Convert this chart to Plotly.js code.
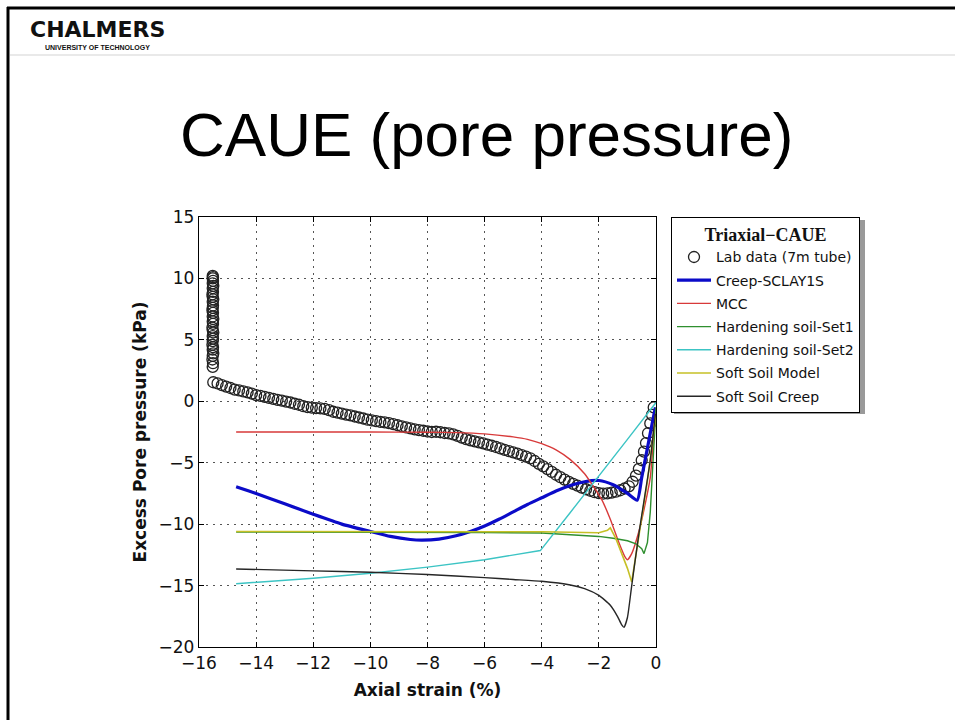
<!DOCTYPE html>
<html>
<head>
<meta charset="utf-8">
<script src="https://cdn.plot.ly/plotly-3.0.1.min.js"></script>
<style>
html,body{margin:0;padding:0;background:#fff;}
#chart{width:955px;height:720px;}
</style>
</head>
<body>
<div id="chart"></div>
<script>
// ---- Data ----
const seriesNames = ["Lab data (7m tube)", "Creep-SCLAY1S", "MCC", "Hardening soil-Set1", "Hardening soil-Set2", "Soft Soil Model", "Soft Soil Creep"];

// Lab data: vertical cluster at start of test
const labClusterX = [-15.52,-15.51,-15.53,-15.52,-15.50,-15.52,-15.51,-15.53,-15.52,-15.51,-15.52,-15.50,-15.52,-15.53,-15.51,-15.52,-15.50,-15.52,-15.51,-15.53,-15.52,-15.51,-15.52,-15.50,-15.52,-15.53,-15.51,-15.52,-15.50,-15.52,-15.51,-15.52,-15.51,-15.52];
const labClusterY = [2.8,3.1,3.4,3.7,3.9,4.2,4.4,4.6,4.9,5.1,5.3,5.6,5.8,6.0,6.3,6.5,6.7,6.9,7.2,7.4,7.6,7.8,8.1,8.3,8.5,8.7,8.9,9.2,9.4,9.6,9.8,10.0,10.1,10.2];
// Lab data: main shearing branch
const labX = [-15.50,-15.35,-15.20,-15.05,-14.90,-14.75,-14.60,-14.45,-14.30,-14.15,-14.00,-13.85,-13.70,-13.55,-13.40,-13.25,-13.10,-12.95,-12.80,-12.65,-12.50,-12.35,-12.20,-12.05,-11.90,-11.75,-11.60,-11.45,-11.30,-11.15,-11.00,-10.85,-10.70,-10.55,-10.40,-10.25,-10.10,-9.95,-9.80,-9.65,-9.50,-9.35,-9.20,-9.05,-8.90,-8.75,-8.60,-8.45,-8.30,-8.15,-8.00,-7.85,-7.70,-7.55,-7.40,-7.25,-7.10,-6.95,-6.80,-6.65,-6.50,-6.35,-6.20,-6.05,-5.90,-5.75,-5.60,-5.45,-5.30,-5.15,-5.00,-4.85,-4.70,-4.55,-4.40,-4.25,-4.10,-3.95,-3.80,-3.65,-3.50,-3.35,-3.20,-3.05,-2.90,-2.75,-2.60,-2.45,-2.30,-2.15,-2.00,-1.85,-1.70,-1.55,-1.40,-1.25,-1.10,-0.95,-0.82,-0.70,-0.60,-0.50,-0.42,-0.35,-0.28,-0.20,-0.14,-0.08];
const labY = [1.55,1.45,1.32,1.20,1.08,0.95,0.88,0.80,0.72,0.62,0.50,0.44,0.36,0.28,0.20,0.12,0.05,-0.02,-0.10,-0.20,-0.28,-0.40,-0.48,-0.52,-0.55,-0.58,-0.62,-0.72,-0.85,-0.92,-1.00,-1.08,-1.15,-1.24,-1.32,-1.40,-1.50,-1.56,-1.62,-1.68,-1.72,-1.78,-1.86,-1.95,-2.04,-2.12,-2.20,-2.28,-2.34,-2.40,-2.46,-2.50,-2.48,-2.52,-2.58,-2.62,-2.70,-2.82,-2.95,-3.08,-3.18,-3.26,-3.34,-3.42,-3.52,-3.62,-3.72,-3.84,-3.96,-4.06,-4.16,-4.26,-4.38,-4.50,-4.64,-4.86,-5.10,-5.30,-5.52,-5.74,-5.98,-6.18,-6.38,-6.56,-6.72,-6.86,-7.02,-7.16,-7.28,-7.40,-7.48,-7.52,-7.50,-7.44,-7.36,-7.24,-7.10,-6.92,-6.55,-6.05,-5.50,-4.80,-4.10,-3.40,-2.60,-1.80,-1.10,-0.50];

const creepX = [-14.7,-14.0,-13.0,-12.0,-11.0,-10.0,-9.3,-8.6,-8.2,-7.6,-7.0,-6.5,-6.0,-5.5,-5.0,-4.5,-4.0,-3.5,-3.0,-2.5,-2.0,-1.5,-1.0,-0.66,-0.5,-0.3,-0.1,-0.02];
const creepY = [-6.95,-7.5,-8.35,-9.2,-10.0,-10.6,-11.0,-11.25,-11.3,-11.22,-10.95,-10.6,-10.15,-9.6,-9.0,-8.4,-7.85,-7.3,-6.85,-6.55,-6.45,-6.8,-7.5,-8.05,-6.2,-3.8,-1.4,-0.5];

const mccX = [-14.7,-12.0,-10.0,-8.0,-7.0,-6.0,-5.0,-4.5,-4.0,-3.5,-3.0,-2.5,-2.2,-1.9,-1.6,-1.3,-1.1,-1.0,-0.85,-0.6,-0.4,-0.2,-0.05,0.0];
const mccY = [-2.5,-2.5,-2.5,-2.52,-2.55,-2.65,-2.9,-3.1,-3.45,-3.95,-4.75,-5.9,-6.9,-8.0,-9.6,-11.5,-12.6,-12.9,-12.4,-10.6,-8.6,-6.2,-1.8,-0.8];

const hs1X = [-14.7,-12.0,-10.0,-8.0,-6.0,-4.0,-3.0,-2.0,-1.5,-1.0,-0.7,-0.5,-0.42,-0.3,-0.2,-0.12,-0.05,0.0];
const hs1Y = [-10.65,-10.65,-10.65,-10.65,-10.68,-10.72,-10.85,-11.0,-11.15,-11.35,-11.6,-12.0,-12.4,-11.5,-9.0,-5.5,-2.5,-0.5];

const hs2X = [-14.7,-12.0,-10.0,-8.0,-6.0,-4.05,-3.0,-2.0,-1.0,0.0];
const hs2Y = [-14.85,-14.4,-14.0,-13.5,-12.9,-12.15,-9.05,-6.1,-3.1,-0.1];

const ssmX = [-14.7,-10.0,-6.0,-4.0,-2.5,-2.0,-1.7,-1.6,-1.4,-1.2,-1.0,-0.85,-0.6,-0.3,0.0];
const ssmY = [-10.6,-10.6,-10.6,-10.62,-10.68,-10.7,-10.5,-10.3,-11.2,-12.4,-13.6,-14.7,-11.0,-6.5,-1.0];

const sscX = [-14.7,-12.0,-10.0,-8.0,-6.0,-5.0,-4.0,-3.0,-2.5,-2.0,-1.6,-1.35,-1.2,-1.12,-1.0,-0.85,-0.6,-0.4,-0.2,-0.02];
const sscY = [-13.65,-13.8,-13.92,-14.1,-14.35,-14.5,-14.65,-14.95,-15.25,-15.8,-16.6,-17.5,-18.2,-18.4,-17.6,-15.0,-10.8,-7.8,-4.8,-1.0];

const xTicks = [-16,-14,-12,-10,-8,-6,-4,-2,0];
const yTicks = [-20,-15,-10,-5,0,5,10,15];

// ---- Layout helpers (pixel -> paper) ----
const L = 199, R = 656, T = 217, B = 647;
const W = 955, H = 720;
const px = x => (x - L) / (R - L);
const py = y => (B - y) / (B - T);

const traces = [
  {x: labClusterX.concat(labX), y: labClusterY.concat(labY), mode: 'markers', name: seriesNames[0], legendgroup: 'g0',
   marker: {symbol: 'circle-open', size: 11, color: '#222', line: {width: 1.3}}},
  {x: creepX, y: creepY, mode: 'lines', name: seriesNames[1], legendgroup: 'g1', line: {color: '#0b0bc8', width: 3.2, shape: 'spline', smoothing: 0.6}},
  {x: mccX, y: mccY, mode: 'lines', name: seriesNames[2], legendgroup: 'g2', line: {color: '#d83a3a', width: 1.4, shape: 'spline', smoothing: 0.5}},
  {x: hs1X, y: hs1Y, mode: 'lines', name: seriesNames[3], legendgroup: 'g3', line: {color: '#2f8f2f', width: 1.4}},
  {x: hs2X, y: hs2Y, mode: 'lines', name: seriesNames[4], legendgroup: 'g4', line: {color: '#3cc4c4', width: 1.4}},
  {x: ssmX, y: ssmY, mode: 'lines', name: seriesNames[5], legendgroup: 'g5', line: {color: '#c6c026', width: 1.6}},
  {x: sscX, y: sscY, mode: 'lines', name: seriesNames[6], legendgroup: 'g6', line: {color: '#262626', width: 1.4, shape: 'spline', smoothing: 0.5}}
];

const axisCommon = {
  showline: true, linecolor: '#000', linewidth: 1.2, mirror: 'allticks',
  ticks: 'inside', ticklen: 5, tickcolor: '#000', tickwidth: 1,
  showgrid: true, gridcolor: '#555', griddash: '2px,5px', gridwidth: 1,
  zeroline: false, tickfont: {family: 'DejaVu Sans', size: 17, color: '#111'}
};

const layout = {
  width: W, height: H,
  margin: {l: L, r: W - R, t: T, b: H - B, pad: 0},
  paper_bgcolor: '#fff', plot_bgcolor: '#fff',
  font: {family: 'DejaVu Sans', color: '#111'},
  showlegend: true,
  xaxis: Object.assign({}, axisCommon, {
    range: [-16, 0], tickvals: xTicks,
    title: {text: 'Axial strain (%)', font: {family: 'DejaVu Sans', size: 17, weight: 'bold', color: '#111'}, standoff: 12}
  }),
  yaxis: Object.assign({}, axisCommon, {
    range: [-20, 15], tickvals: yTicks,
    title: {text: 'Excess Pore pressure (kPa)', font: {family: 'DejaVu Sans', size: 17, weight: 'bold', color: '#111'}, standoff: 7}
  }),
  legend: {
    x: px(671), y: py(217), xanchor: 'left', yanchor: 'top',
    bgcolor: '#fff', bordercolor: '#000', borderwidth: 1,
    font: {family: 'DejaVu Sans', size: 14, color: '#111'},
    title: {text: 'Triaxial\u2212CAUE', side: 'top center', font: {family: 'Liberation Serif', size: 18, weight: 'bold', color: '#111'}},
    itemwidth: 34, tracegroupgap: 2, traceorder: 'grouped'
  },
  shapes: [
    // legend shadow
    {type: 'rect', xref: 'paper', yref: 'paper', x0: px(674), x1: px(865), y0: py(220), y1: py(414), fillcolor: '#9a9a9a', line: {width: 0}, layer: 'below'},
    // slide frame: left and top black borders
    {type: 'line', xref: 'paper', yref: 'paper', x0: px(8), x1: px(8), y0: py(7), y1: py(720), line: {color: '#000', width: 3}},
    {type: 'line', xref: 'paper', yref: 'paper', x0: px(7), x1: px(955), y0: py(8), y1: py(8), line: {color: '#000', width: 3}},
    // header separator
    {type: 'line', xref: 'paper', yref: 'paper', x0: px(10), x1: px(955), y0: py(55), y1: py(55), line: {color: '#e2e2e2', width: 1.5}}
  ],
  annotations: [
    {text: 'CHALMERS', xref: 'paper', yref: 'paper', x: px(29), y: py(29), xanchor: 'left', yanchor: 'middle', showarrow: false, borderpad: 0,
     font: {family: 'DejaVu Sans', size: 22, weight: 'bold', color: '#111'}},
    {text: 'UNIVERSITY OF TECHNOLOGY', xref: 'paper', yref: 'paper', x: px(44), y: py(47.5), xanchor: 'left', yanchor: 'middle', showarrow: false, borderpad: 0,
     font: {family: 'Liberation Sans', size: 7, weight: 'bold', color: '#111'}},
    {text: 'CAUE (pore pressure)', xref: 'paper', yref: 'paper', x: px(486), y: py(134), xanchor: 'center', yanchor: 'middle', showarrow: false,
     font: {family: 'Liberation Sans', size: 62, color: '#000'}}
  ]
};

Plotly.newPlot('chart', traces, layout, {displayModeBar: false, staticPlot: true});
</script>
</body>
</html>
